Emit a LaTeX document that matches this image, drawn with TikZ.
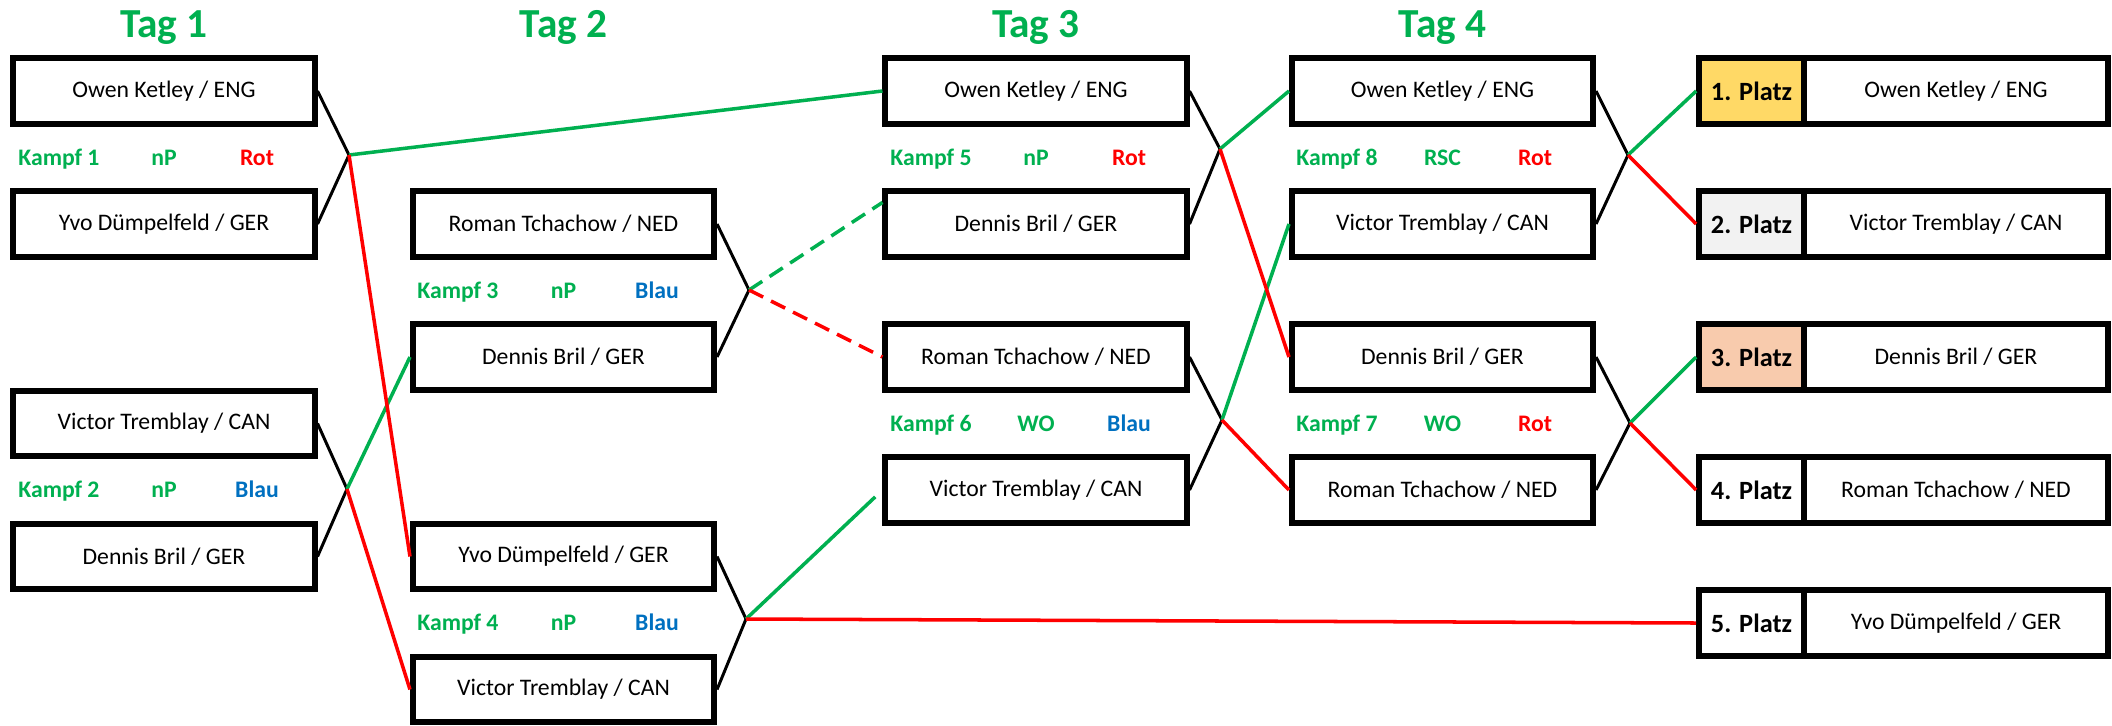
\documentclass[tikz,border=0pt]{standalone}
\usepackage{fontspec}
\setmainfont{Carlito}
\definecolor{tgreen}{HTML}{00B050}
\definecolor{tred}{HTML}{FF0000}
\definecolor{tblue}{HTML}{0070C0}
\definecolor{gold}{HTML}{FFD966}
\definecolor{silver}{HTML}{F2F2F2}
\definecolor{bronze}{HTML}{F8CBAD}

\begin{document}
\begin{tikzpicture}[x=0.02cm, y=-0.02cm,
        fighter/.style={draw, line width=3.2pt, minimum width=6.03cm, minimum height=1.31cm, inner sep=0pt, font=\fontsize{13.5}{16}\selectfont},
        rank/.style={draw, line width=3.2pt, minimum width=2.1cm, minimum height=1.31cm, inner sep=0pt, font=\bfseries\fontsize{15}{18}\selectfont},
        rankname/.style={fighter, minimum width=6.08cm},
        day/.style={anchor=base, inner sep=0pt, text=tgreen, font=\bfseries\fontsize{23.5}{28}\selectfont},
        fight/.style={anchor=base west, inner sep=0pt, text=tgreen, font=\bfseries\fontsize{13.5}{16}\selectfont},
        result/.style={anchor=base, inner sep=0pt, font=\bfseries\fontsize{13.5}{16}\selectfont},
        link/.style={line width=1.7pt},
        win/.style={tgreen, line width=2pt},
        lose/.style={tred, line width=2pt},
        late/.style={dash pattern=on 9pt off 5pt}]
        \useasboundingbox (0, 0) rectangle (2112, 725);

        % Tage
        \node[day] (t1) at (164, 37) {Tag 1};
        \node[day] (t2) at (563.5, 37) {Tag 2};
        \node[day] (t3) at (1036, 37) {Tag 3};
        \node[day] (t4) at (1442.5, 37) {Tag 4};

        % Tag 1
        \node[fighter] (o1) at (164, 91) {Owen Ketley / ENG};
        \node[fighter] (y1) at (164, 224) {Yvo Dümpelfeld / GER};
        \node[fighter] (v1) at (164, 423.5) {Victor Tremblay / CAN};
        \node[fighter] (d1) at (164, 556.5) {Dennis Bril / GER};
        \node[fight] (k1) at (18, 165) {Kampf 1};
        \node[result, text=tgreen] (m1) at (164, 165) {nP};
        \node[result, text=tred] (c1) at (257, 165) {Rot};
        \node[fight] (k2) at (18, 497.5) {Kampf 2};
        \node[result, text=tgreen] (m2) at (164, 497.5) {nP};
        \node[result, text=tblue] (c2) at (257, 497.5) {Blau};

        % Tag 2
        \node[fighter] (r2) at (563.5, 224) {Roman Tchachow / NED};
        \node[fighter] (d2) at (563.5, 357) {Dennis Bril / GER};
        \node[fighter] (y2) at (563.5, 556.5) {Yvo Dümpelfeld / GER};
        \node[fighter] (v2) at (563.5, 689.5) {Victor Tremblay / CAN};
        \node[fight] (k3) at (417, 298) {Kampf 3};
        \node[result, text=tgreen] (m3) at (563.5, 298) {nP};
        \node[result, text=tblue] (c3) at (657, 298) {Blau};
        \node[fight] (k4) at (417, 630.5) {Kampf 4};
        \node[result, text=tgreen] (m4) at (563.5, 630.5) {nP};
        \node[result, text=tblue] (c4) at (657, 630.5) {Blau};

        % Tag 3
        \node[fighter] (o3) at (1036, 91) {Owen Ketley / ENG};
        \node[fighter] (d3) at (1036, 224) {Dennis Bril / GER};
        \node[fighter] (r3) at (1036, 357) {Roman Tchachow / NED};
        \node[fighter] (v3) at (1036, 490) {Victor Tremblay / CAN};
        \node[fight] (k5) at (890, 165) {Kampf 5};
        \node[result, text=tgreen] (m5) at (1036, 165) {nP};
        \node[result, text=tred] (c5) at (1129, 165) {Rot};
        \node[fight] (k6) at (890, 431) {Kampf 6};
        \node[result, text=tgreen] (m6) at (1036, 431) {WO};
        \node[result, text=tblue] (c6) at (1129, 431) {Blau};

        % Tag 4
        \node[fighter] (o4) at (1442.5, 91) {Owen Ketley / ENG};
        \node[fighter] (v4) at (1442.5, 224) {Victor Tremblay / CAN};
        \node[fighter] (d4) at (1442.5, 357) {Dennis Bril / GER};
        \node[fighter] (r4) at (1442.5, 490) {Roman Tchachow / NED};
        \node[fight] (k8) at (1296, 165) {Kampf 8};
        \node[result, text=tgreen] (m8) at (1442.5, 165) {RSC};
        \node[result, text=tred] (c8) at (1535, 165) {Rot};
        \node[fight] (k7) at (1296, 431) {Kampf 7};
        \node[result, text=tgreen] (m7) at (1442.5, 431) {WO};
        \node[result, text=tred] (c7) at (1535, 431) {Rot};

        % Platzierung
        \node[rank, fill=gold] (p1) at (1751.5, 91) {1. Platz};
        \node[rankname] (n1) at (1956, 91) {Owen Ketley / ENG};
        \node[rank, fill=silver] (p2) at (1751.5, 224) {2. Platz};
        \node[rankname] (n2) at (1956, 224) {Victor Tremblay / CAN};
        \node[rank, fill=bronze] (p3) at (1751.5, 357) {3. Platz};
        \node[rankname] (n3) at (1956, 357) {Dennis Bril / GER};
        \node[rank] (p4) at (1751.5, 490) {4. Platz};
        \node[rankname] (n4) at (1956, 490) {Roman Tchachow / NED};
        \node[rank] (p5) at (1751.5, 623) {5. Platz};
        \node[rankname] (n5) at (1956, 623) {Yvo Dümpelfeld / GER};

        % Kampfpunkte
        \coordinate (j1) at (349, 155);
        \coordinate (j2) at (347, 489);
        \coordinate (j3) at (749, 290);
        \coordinate (j4) at (746, 619);
        \coordinate (j5) at (1220, 149);
        \coordinate (j6) at (1222, 420);
        \coordinate (j7) at (1630, 423);
        \coordinate (j8) at (1628, 155);

        \draw[link] (o1.east) -- (j1) -- (y1.east);
        \draw[link] (v1.east) -- (j2) -- (d1.east);
        \draw[link] (r2.east) -- (j3) -- (d2.east);
        \draw[link] (y2.east) -- (j4) -- (v2.east);
        \draw[link] (o3.east) -- (j5) -- (d3.east);
        \draw[link] (r3.east) -- (j6) -- (v3.east);
        \draw[link] (o4.east) -- (j8) -- (v4.east);
        \draw[link] (d4.east) -- (j7) -- (r4.east);

        % Sieger
        \draw[win] (j1) -- (o3.west);
        \draw[win] (j2) -- (d2.west);
        \draw[win, late] (j3) -- (d3.172);
        \draw[win, shorten >=0.2cm] (j4) -- (v3.west);
        \draw[win] (j5) -- (o4.west);
        \draw[win] (j6) -- (v4.west);
        \draw[win] (j8) -- (p1.west);
        \draw[win] (j7) -- (p3.west);

        % Verlierer
        \draw[lose] (j1) -- (y2.west);
        \draw[lose] (j2) -- (v2.west);
        \draw[lose, late] (j3) -- (r3.west);
        \draw[lose] (j4) -- (p5.west);
        \draw[lose] (j5) -- (d4.west);
        \draw[lose] (j6) -- (r4.west);
        \draw[lose] (j8) -- (p2.west);
        \draw[lose] (j7) -- (p4.west);
    \end{tikzpicture}
\end{document}
